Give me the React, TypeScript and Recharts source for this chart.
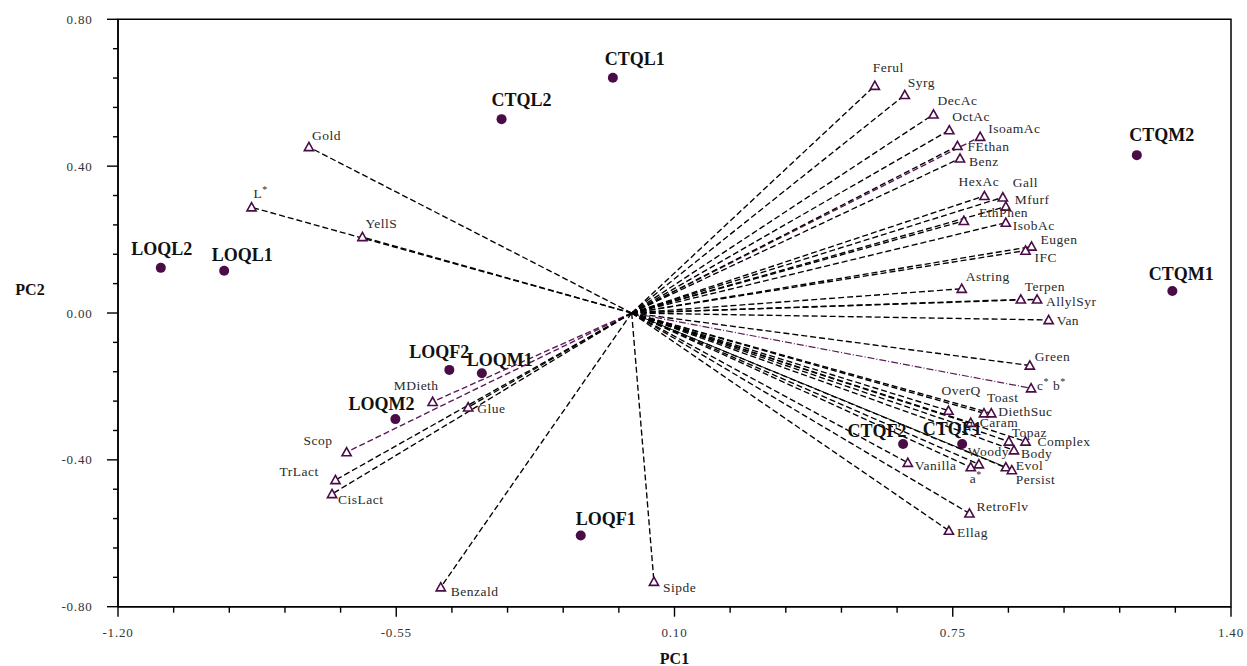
import React from 'react';
import { ScatterChart, Scatter, XAxis, YAxis, ReferenceLine, ReferenceArea } from 'recharts';

// ---------- data ----------
const sampleNames = ['LOQL2', 'LOQL1', 'CTQL1', 'CTQL2', 'CTQM2', 'CTQM1', 'LOQF2', 'LOQM1', 'LOQM2', 'LOQF1', 'CTQF2', 'CTQF1'];
const samplePC1 = [-1.1, -0.952, -0.044, -0.304, 1.18, 1.263, -0.426, -0.35, -0.552, -0.119, 0.634, 0.772];
const samplePC2 = [0.123, 0.115, 0.641, 0.528, 0.43, 0.06, -0.155, -0.164, -0.289, -0.606, -0.357, -0.357];

const varNames = [
  'Gold', 'L*', 'YellS', 'Ferul', 'Syrg', 'DecAc', 'OctAc', 'IsoamAc', 'FEthan', 'Benz',
  'HexAc', 'Gall', 'Mfurf', 'EthPhen', 'IsobAc', 'Eugen', 'IFC', 'Astring', 'Terpen', 'AllylSyr',
  'Van', 'Green', 'c* b*', 'OverQ', 'Toast', 'DiethSuc', 'Caram', 'Topaz', 'Complex', 'Body',
  'Woody', 'a*', 'Evol', 'Persist', 'Vanilla', 'RetroFlv', 'Ellag', 'MDieth', 'Glue', 'Scop',
  'TrLact', 'CisLact', 'Benzald', 'Sipde',
];
const varPC1 = [
  -0.754, -0.888, -0.629, 0.568, 0.638, 0.705, 0.742, 0.814, 0.761, 0.767,
  0.824, 0.867, 0.874, 0.776, 0.874, 0.934, 0.92, 0.771, 0.909, 0.947,
  0.974, 0.93, 0.933, 0.74, 0.823, 0.84, 0.792, 0.881, 0.92, 0.893,
  0.811, 0.792, 0.874, 0.888, 0.645, 0.789, 0.741, -0.465, -0.382, -0.666,
  -0.692, -0.7, -0.446, 0.052,
];
const varPC2 = [
  0.452, 0.288, 0.207, 0.619, 0.594, 0.541, 0.498, 0.48, 0.455, 0.421,
  0.319, 0.315, 0.29, 0.251, 0.246, 0.181, 0.17, 0.066, 0.037, 0.037,
  -0.019, -0.143, -0.205, -0.266, -0.273, -0.273, -0.299, -0.35, -0.35, -0.374,
  -0.412, -0.42, -0.42, -0.428, -0.408, -0.546, -0.593, -0.242, -0.257, -0.379,
  -0.455, -0.493, -0.747, -0.732,
];

const xMajorTicks = [-1.2, -0.55, 0.1, 0.75, 1.4];
const yMajorTicks = [-0.8, -0.4, 0.0, 0.4, 0.8];
const origin = { x: 0, y: 0 };

// ---------- styles ----------
const W = 1247;
const H = 666;
const PLOT_LEFT = 118;
const PLOT_RIGHT = 1231;
const PLOT_TOP = 19.3;
const PLOT_BOTTOM = 606.7;
const Y_AXIS_W = 60;
const X_AXIS_H = 40;
const MARGIN = {
  top: PLOT_TOP,
  right: W - PLOT_RIGHT,
  left: PLOT_LEFT - Y_AXIS_W,
  bottom: H - PLOT_BOTTOM - X_AXIS_H,
};
const PURPLE = '#4a0c47';
const LINE_PURPLE = '#5b1a58';
const FONT = '"Liberation Serif", "DejaVu Serif", serif';

// label placement (text start dx, baseline dy) relative to the marker
const varLabelOffset: Record<string, [number, number]> = {
  Gold: [3, -7], 'L*': [2, -9], YellS: [3, -9], Ferul: [-2, -14], Syrg: [3, -8],
  DecAc: [4, -9], OctAc: [3, -9], IsoamAc: [8, -4], FEthan: [10, 5], Benz: [9, 8],
  HexAc: [-26, -10], Gall: [10, -10], Mfurf: [9, -3], EthPhen: [15, -4], IsobAc: [7, 7],
  Eugen: [9, -3], IFC: [9, 11], Astring: [4, -8], Terpen: [4, -8], AllylSyr: [9, 7],
  Van: [8, 5], Green: [5, -4], 'c* b*': [6, 2], OverQ: [-7, -16], Toast: [3, -11],
  DiethSuc: [7, 3], Caram: [9, 4], Topaz: [3, -4], Complex: [12, 5], Body: [7, 8],
  Woody: [-11, -8], 'a*': [-1, 16], Evol: [10, 3], Persist: [4, 14], Vanilla: [7, 7],
  RetroFlv: [7, -2], Ellag: [8, 6], MDieth: [-39, -12], Glue: [9, 6], Scop: [-43, -7],
  TrLact: [-56, -4], CisLact: [6, 10], Benzald: [10, 9], Sipde: [9, 10],
};
// sample label placement (text centre dx, baseline dy)
const sampleLabelOffset: Record<string, [number, number]> = {
  LOQL2: [1, -13], LOQL1: [18, -10], CTQL1: [22, -13], CTQL2: [20, -13],
  CTQM2: [25, -14], CTQM1: [9, -11], LOQF2: [-10, -12], LOQM1: [18, -7],
  LOQM2: [-14, -9], LOQF1: [25, -10], CTQF2: [-26, -7], CTQF1: [-10, -9],
};
const lineStyle: Record<string, { stroke: string; dash?: string; width: number }> = {
  IsoamAc: { stroke: LINE_PURPLE, dash: '6 3', width: 1.4 },
  MDieth: { stroke: LINE_PURPLE, dash: '6 3', width: 1.4 },
  Scop: { stroke: LINE_PURPLE, dash: '6 3', width: 1.4 },
  'c* b*': { stroke: LINE_PURPLE, dash: '7 2 1 2', width: 1.2 },
  Evol: { stroke: '#111', width: 1.0 },
};
const defaultLine = { stroke: '#000', dash: '6 3', width: 1.35 };

// ---------- helpers ----------
const sampleData = sampleNames.map((name, i) => ({ name, x: samplePC1[i], y: samplePC2[i] }));
const varData = varNames.map((name, i) => ({ name, x: varPC1[i], y: varPC2[i] }));

function subdivide(majors: number[], n: number) {
  const out: number[] = [];
  for (let i = 0; i < majors.length - 1; i++) {
    for (let k = 0; k < n; k++) out.push(+(majors[i] + ((majors[i + 1] - majors[i]) * k) / n).toFixed(4));
  }
  out.push(majors[majors.length - 1]);
  return out;
}
const xTicks = subdivide(xMajorTicks, 5);
const yTicks = subdivide(yMajorTicks, 5);
const isMajor = (v: number, majors: number[]) => majors.some((m) => Math.abs(m - v) < 1e-6);

function starText(name: string) {
  const parts = name.split('*');
  const out: React.ReactNode[] = [];
  let raised = false;
  parts.forEach((p, i) => {
    if (p) {
      out.push(<tspan key={'t' + i} dy={raised ? 5 : 0}>{p}</tspan>);
      raised = false;
    }
    if (i < parts.length - 1) {
      out.push(
        <tspan key={'s' + i} fontSize={10} dy={raised ? 0 : -5}>*</tspan>
      );
      raised = true;
    }
  });
  return out;
}

const XTick = (props: any) => {
  const { payload } = props;
  const x = payload.coordinate;
  const major = isMajor(payload.value, xMajorTicks);
  return (
    <g>
      <line x1={x} x2={x} y1={PLOT_BOTTOM} y2={PLOT_BOTTOM + (major ? 10 : 6)} stroke="#000" strokeWidth={1.4} />
      {major && (
        <text x={x} y={PLOT_BOTTOM + 30} textAnchor="middle" fontFamily={FONT} fontSize={13} letterSpacing={0.8} fill="#333">
          {payload.value.toFixed(2)}
        </text>
      )}
    </g>
  );
};

const YTick = (props: any) => {
  const { payload } = props;
  const y = payload.coordinate;
  const major = isMajor(payload.value, yMajorTicks);
  return (
    <g>
      <line x1={PLOT_LEFT - (major ? 11 : 5)} x2={PLOT_LEFT} y1={y} y2={y} stroke="#000" strokeWidth={1.4} />
      {major && (
        <text x={PLOT_LEFT - 25.5} y={y + 4.5} textAnchor="end" fontFamily={FONT} fontSize={13} letterSpacing={0.8} fill="#333">
          {payload.value.toFixed(2)}
        </text>
      )}
    </g>
  );
};

const TriangleShape = (props: any) => {
  const { cx, cy, payload } = props;
  const [dx, dy] = varLabelOffset[payload.name] ?? [5, -6];
  return (
    <g>
      <path
        d={`M${cx},${cy - 4.6} L${cx + 4.6},${cy + 3.6} L${cx - 4.6},${cy + 3.6} Z`}
        fill="#fff"
        stroke={PURPLE}
        strokeWidth={1.6}
        strokeLinejoin="miter"
      />
      <text x={cx + dx} y={cy + dy} fontFamily={FONT} fontSize={13.5} letterSpacing={0.5} fill="#2a2a2a">
        {starText(payload.name)}
      </text>
    </g>
  );
};

const DotShape = (props: any) => {
  const { cx, cy, payload } = props;
  const [dx, dy] = sampleLabelOffset[payload.name] ?? [0, -12];
  return (
    <g>
      <circle cx={cx} cy={cy} r={5} fill={PURPLE} />
      <text x={cx + dx} y={cy + dy} textAnchor="middle" fontFamily={FONT} fontSize={18} fontWeight="bold" fill="#111">
        {payload.name}
      </text>
    </g>
  );
};

export default function App() {
  return (
    <div style={{ position: 'absolute', left: 0, top: 0, width: W, height: H, background: '#fff' }}>
      <ScatterChart width={W} height={H} margin={MARGIN}>
        <XAxis
          type="number"
          dataKey="x"
          domain={[-1.2, 1.4]}
          ticks={xTicks}
          interval={0}
          allowDataOverflow
          height={X_AXIS_H}
          axisLine={{ stroke: '#000', strokeWidth: 1.5 }}
          tickLine={false}
          tick={<XTick />}
          label={{
            content: () => (
              <text x={(PLOT_LEFT + PLOT_RIGHT) / 2} y={664} textAnchor="middle" fontFamily={FONT} fontSize={16} fontWeight="bold" fill="#111">
                PC1
              </text>
            ),
          }}
        />
        <YAxis
          type="number"
          dataKey="y"
          domain={[-0.8, 0.8]}
          ticks={yTicks}
          interval={0}
          allowDataOverflow
          width={Y_AXIS_W}
          axisLine={{ stroke: '#000', strokeWidth: 1.5 }}
          tickLine={false}
          tick={<YTick />}
          label={{
            content: () => (
              <text x={30} y={295} textAnchor="middle" fontFamily={FONT} fontSize={16} fontWeight="bold" fill="#111">
                PC2
              </text>
            ),
          }}
        />
        <ReferenceArea x1={-1.2} x2={1.4} y1={-0.8} y2={0.8} fill="none" fillOpacity={0} stroke="#000" strokeWidth={1.5} />
        {varData.map((v) => {
          const st = lineStyle[v.name] ?? defaultLine;
          return (
            <ReferenceLine
              key={'l-' + v.name}
              segment={[origin, { x: v.x, y: v.y }]}
              stroke={st.stroke}
              strokeWidth={st.width}
              strokeDasharray={st.dash}
              ifOverflow="visible"
            />
          );
        })}
        <Scatter name="Variables" data={varData} shape={<TriangleShape />} isAnimationActive={false} />
        <Scatter name="Samples" data={sampleData} shape={<DotShape />} isAnimationActive={false} />
      </ScatterChart>
    </div>
  );
}
